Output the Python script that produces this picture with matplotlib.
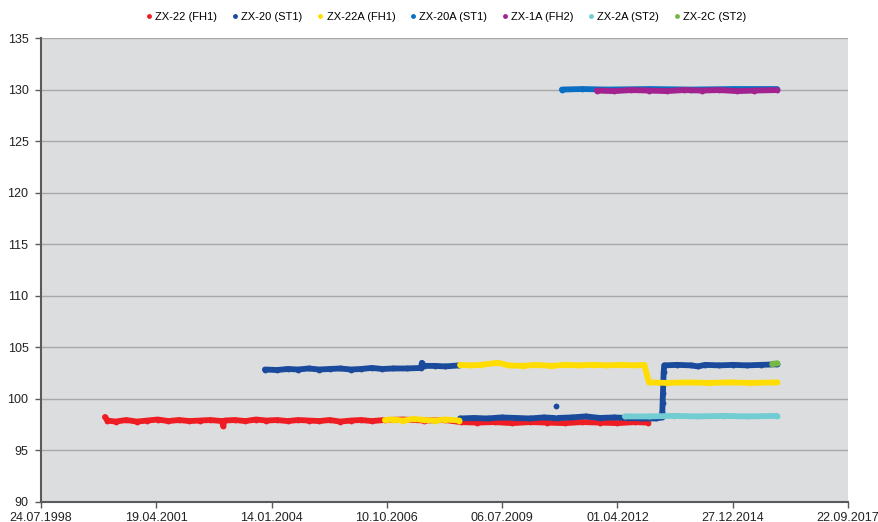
import numpy as np
import pandas as pd
import matplotlib
matplotlib.use("Agg")
import matplotlib.pyplot as plt
from matplotlib.lines import Line2D

plt.rcParams['font.family'] = ['Liberation Sans', 'DejaVu Sans']

nan = np.nan

# ---------------- data ----------------
x_tick_labels = ['24.07.1998', '19.04.2001', '14.01.2004', '10.10.2006',
                 '06.07.2009', '01.04.2012', '27.12.2014', '22.09.2017']
y_ticks = [90, 95, 100, 105, 110, 115, 120, 125, 130, 135]

zx22_dates = ['2000-01-30', '2000-02-20', '2000-05-01', '2000-08-01', '2000-11-01',
              '2001-02-01', '2001-05-01', '2001-08-01', '2001-11-01', '2002-02-01',
              '2002-05-01', '2002-08-01', '2002-11-10', '2002-11-20', '2002-12-01',
              '2003-03-01', '2003-06-01', '2003-09-01', '2003-12-01', '2004-03-01',
              '2004-06-01', '2004-09-01', '2004-12-01', '2005-03-01', '2005-06-01',
              '2005-09-01', '2005-12-01', '2006-03-01', '2006-06-01', '2006-09-20',
              '2007-03-01', '2007-09-01', '2008-03-01', '2008-07-10', '2008-12-01',
              '2009-05-01', '2009-10-01', '2010-03-01', '2010-08-01', '2011-01-01',
              '2011-06-01', '2011-11-01', '2012-04-01', '2012-09-01', '2012-12-20']
zx22_vals = [98.25, 97.9, 97.8, 97.95, 97.8,
             97.9, 98.0, 97.85, 97.95, 97.85,
             97.9, 97.95, 97.85, 97.35, 97.9,
             97.95, 97.85, 98.0, 97.9, 97.95,
             97.85, 97.95, 97.9, 97.85, 97.95,
             97.8, 97.9, 97.95, 97.85, 97.95,
             98.0, 97.9, 97.95, 97.75, 97.7,
             97.75, 97.65, 97.75, 97.7, 97.65,
             97.75, 97.7, 97.65, 97.75, 97.7]

zx20_dates = ['2003-11-17', '2004-03-01', '2004-06-01', '2004-09-01', '2004-12-01',
              '2005-03-01', '2005-06-01', '2005-09-01', '2005-12-01', '2006-03-01',
              '2006-06-01', '2006-09-01', '2006-12-01', '2007-04-01', '2007-08-01',
              '2007-08-10', '2007-08-25', '2007-12-01', '2008-03-01', '2008-07-01',
              '2008-07-03',
              '2008-07-05', '2008-11-01', '2009-03-01', '2009-07-01', '2009-11-01',
              '2010-03-01', '2010-07-01', '2010-10-01', '2010-10-08', '2010-10-15',
              '2010-10-22', '2010-11-01', '2011-03-01', '2011-07-01', '2011-11-01',
              '2012-03-01', '2012-07-01', '2012-11-01', '2013-03-01', '2013-04-20',
              '2013-04-25', '2013-04-28', '2013-05-01', '2013-05-04', '2013-05-07',
              '2013-05-12', '2013-09-01', '2014-01-01', '2014-03-01', '2014-05-01',
              '2014-09-01', '2015-01-01', '2015-05-01', '2015-09-01', '2016-01-14']
zx20_vals = [102.85, 102.8, 102.9, 102.85, 102.95,
             102.85, 102.9, 102.95, 102.85, 102.9,
             103.0, 102.9, 102.95, 102.95, 103.0,
             103.5, 103.2, 103.2, 103.15, 103.25,
             nan,
             98.1, 98.15, 98.1, 98.2, 98.15,
             98.1, 98.2, 98.15, nan, 99.3,
             nan, 98.15, 98.2, 98.3, 98.15,
             98.2, 98.15, 98.1, 98.1, 98.2,
             98.7, 99.6, 100.6, 101.6, 102.6,
             103.25, 103.3, 103.25, 103.15, 103.3,
             103.25, 103.3, 103.25, 103.3, 103.35]

zx22a_dates = ['2006-09-23', '2006-12-01', '2007-03-01', '2007-06-01', '2007-09-01',
               '2007-12-01', '2008-03-01', '2008-07-01', '2008-07-03',
               '2008-07-06', '2008-10-01', '2009-01-01', '2009-06-01', '2009-09-01',
               '2010-01-01', '2010-05-01', '2010-09-01', '2011-01-01', '2011-05-01',
               '2011-09-01', '2012-01-01', '2012-05-01', '2012-09-01', '2012-11-20',
               '2012-12-30', '2013-06-01', '2013-12-01', '2014-06-01', '2014-12-01',
               '2015-06-01', '2016-01-14']
zx22a_vals = [97.95, 98.0, 97.9, 98.05, 97.95,
              97.9, 98.0, 97.9, nan,
              103.3, 103.25, 103.3, 103.5, 103.25,
              103.2, 103.3, 103.2, 103.3, 103.25,
              103.3, 103.25, 103.3, 103.25, 103.3,
              101.6, 101.55, 101.6, 101.55, 101.6,
              101.55, 101.6]

zx20a_dates = ['2010-12-06', '2011-06-01', '2012-01-01', '2013-01-01', '2014-01-01',
               '2015-01-01', '2016-01-14']
zx20a_vals = [130.0, 130.05, 130.0, 130.05, 130.0, 130.05, 130.05]

zx1a_dates = ['2011-10-05', '2012-03-01', '2012-08-01', '2013-01-01', '2013-06-01',
              '2013-11-01', '2014-04-01', '2014-09-01', '2015-02-01', '2015-07-01',
              '2016-01-14']
zx1a_vals = [129.9, 129.85, 129.95, 129.9, 129.85, 129.95, 129.9, 129.95, 129.85,
             129.9, 129.95]

zx2a_dates = ['2012-06-05', '2013-01-01', '2013-08-01', '2014-03-01', '2014-10-01',
              '2015-05-01', '2016-01-14']
zx2a_vals = [98.3, 98.3, 98.35, 98.3, 98.35, 98.3, 98.35]

zx2c_dates = ['2015-12-05', '2016-01-14']
zx2c_vals = [103.4, 103.45]

series = [
    ('ZX-22 (FH1)', zx22_dates, zx22_vals, '#EE1D24'),
    ('ZX-20 (ST1)', zx20_dates, zx20_vals, '#1A4A9C'),
    ('ZX-22A (FH1)', zx22a_dates, zx22a_vals, '#FFDD00'),
    ('ZX-20A (ST1)', zx20a_dates, zx20a_vals, '#0A6FC2'),
    ('ZX-1A (FH2)', zx1a_dates, zx1a_vals, '#A2238F'),
    ('ZX-2A (ST2)', zx2a_dates, zx2a_vals, '#72CDD2'),
    ('ZX-2C (ST2)', zx2c_dates, zx2c_vals, '#76B843'),
]

# ---------------- plot ----------------
fig = plt.figure(figsize=(8.79, 5.22), dpi=100)
ax = fig.add_axes([41 / 879, 1 - 502 / 522, (848 - 41) / 879, (502 - 38) / 522])
ax.set_facecolor('#DCDDDF')

LW = 4.2
handles = []
for name, d, v, c in series:
    dd = pd.to_datetime(d)
    ax.plot(dd, v, color=c, lw=LW, marker='o', ms=LW, mew=0,
            solid_capstyle='round', solid_joinstyle='round', zorder=3)
    handles.append(Line2D([], [], color=c, marker='o', ls='none', ms=3.5, mew=0,
                          label=name))

tick_dates = pd.to_datetime(x_tick_labels, format='%d.%m.%Y')
ax.set_xlim(tick_dates[0], tick_dates[-1])
ax.set_xticks(tick_dates)
ax.set_xticklabels(x_tick_labels)
ax.set_ylim(90, 135)
ax.set_yticks(y_ticks)

ax.yaxis.grid(True, color='#A8A8A8', lw=1.0)
ax.set_axisbelow(True)
for s in ['top', 'right']:
    ax.spines[s].set_visible(False)
for s in ['left', 'bottom']:
    ax.spines[s].set_color('#5A5A5A')
    ax.spines[s].set_linewidth(1.5)
ax.tick_params(axis='both', labelsize=9, length=4, color='#5A5A5A', width=1,
               labelcolor='#222222')
ax.tick_params(axis='y', pad=5)
ax.tick_params(axis='x', pad=3)

fig.legend(handles=handles, loc='center', bbox_to_anchor=(0.508, 0.967), ncol=7,
           frameon=False, fontsize=8, handlelength=0.5, handletextpad=0.3,
           columnspacing=1.35, borderpad=0)

fig.savefig('out.png', dpi=100, facecolor='white')
